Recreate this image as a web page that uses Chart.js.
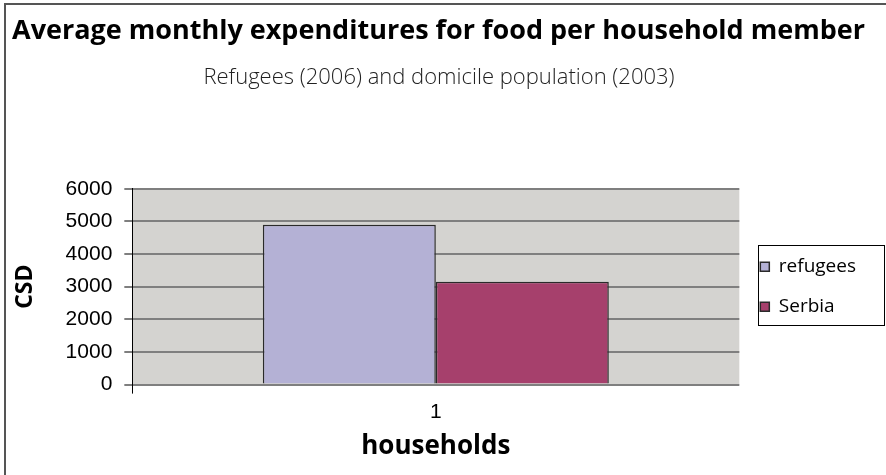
<!DOCTYPE html>
<html>
<head>
<meta charset="utf-8">
<script src="https://cdn.jsdelivr.net/npm/chart.js@4/dist/chart.umd.min.js"></script>
<style>
html,body{margin:0;padding:0;background:#fff;}
#wrap{width:886px;height:475px;position:relative;}
</style>
</head>
<body>
<div id="wrap"><canvas id="c" width="886" height="475"></canvas></div>
<script>
const titleText = "Average monthly expenditures for food per household member";
const subtitleText = "Refugees (2006) and domicile population (2003)";
const categories = ["1"];
const seriesNames = ["refugees", "Serbia"];
const refugeesValues = [4900];
const serbiaValues = [3150];
const yTicks = [0, 1000, 2000, 3000, 4000, 5000, 6000];
const xAxisTitle = "households";
const yAxisTitle = "CSD";

const framePlugin = {
  id: 'frame',
  beforeDraw(chart) {
    const ctx = chart.ctx;
    ctx.save();
    ctx.fillStyle = '#ffffff';
    ctx.fillRect(0, 0, chart.width, chart.height);
    ctx.strokeStyle = '#555555';
    ctx.lineWidth = 2;
    ctx.beginPath();
    ctx.moveTo(5, chart.height);
    ctx.lineTo(5, 4);
    ctx.lineTo(chart.width, 4);
    ctx.stroke();
    const a = chart.chartArea;
    ctx.fillStyle = '#d4d3d0';
    ctx.fillRect(a.left, a.top, a.right - a.left, a.bottom - a.top);
    ctx.restore();
  },
  afterDraw(chart) {
    const lg = chart.legend;
    if (!lg || !lg.legendHitBoxes || !lg.legendHitBoxes.length) return;
    const boxes = lg.legendHitBoxes;
    const first = boxes[0], last = boxes[boxes.length - 1];
    const l = Math.round(first.left - 2);
    const t = Math.round(first.top + first.height / 2 - 22);
    const b = Math.round(last.top + last.height / 2 + 18);
    const r = chart.width - 2;
    const ctx = chart.ctx;
    ctx.save();
    ctx.strokeStyle = '#000';
    ctx.lineWidth = 1;
    ctx.strokeRect(l + 0.5, t + 0.5, r - l, b - t);
    ctx.restore();
  }
};

new Chart(document.getElementById('c'), {
  type: 'bar',
  data: {
    labels: categories,
    datasets: [
      { label: seriesNames[0], data: refugeesValues, backgroundColor: '#b4b1d5', borderColor: '#2a2a2a', borderWidth: 1.5 },
      { label: seriesNames[1], data: serbiaValues, backgroundColor: '#a6406c', borderColor: '#2a2a2a', borderWidth: 1.5 }
    ]
  },
  plugins: [framePlugin],
  options: {
    responsive: false,
    animation: false,
    devicePixelRatio: 1,
    layout: { padding: { left: 12, right: 20, top: 0, bottom: 13 } },
    datasets: { bar: { barPercentage: 1.0, categoryPercentage: 0.57 } },
    plugins: {
      title: {
        display: true, text: titleText, align: 'start', color: '#000',
        font: { family: 'Open Sans', weight: 'bold', size: 27 },
        padding: { top: 15, bottom: 0 }
      },
      subtitle: {
        display: true, text: subtitleText, align: 'center', color: '#222',
        font: { family: 'Open Sans', weight: '300', size: 22 },
        padding: { top: 17, bottom: 98 }
      },
      legend: {
        display: true, position: 'right', align: 'center', fullSize: false,
        labels: {
          boxWidth: 9, boxHeight: 9, padding: 21, color: '#000',
          font: { family: 'Open Sans', size: 19 }
        }
      },
      tooltip: { enabled: false }
    },
    scales: {
      x: {
        grid: {
          display: true, drawOnChartArea: false, offset: true, tickLength: 9,
          color: (c) => c.index === 0 ? '#000' : 'rgba(0,0,0,0)'
        },
        border: { display: false },
        ticks: { color: '#000', font: { family: 'Liberation Sans', size: 21 }, padding: 6 },
        title: { display: true, text: xAxisTitle, color: '#000', font: { family: 'Open Sans', weight: 'bold', size: 26 }, padding: { top: 0, bottom: 0 } }
      },
      y: {
        min: 0, max: 6000,
        afterBuildTicks: (s) => { s.ticks = yTicks.map(v => ({ value: v })); },
        grid: { color: '#7f7f7f', lineWidth: 2, tickLength: 8 },
        border: { display: true, color: '#000', width: 1 },
        ticks: { color: '#000', font: { family: 'Liberation Sans', size: 21 }, padding: 12, callback: (v) => String(v) },
        title: { display: true, text: yAxisTitle, color: '#000', font: { family: 'Open Sans', weight: 'bold', size: 23 }, padding: { top: 0, bottom: 14 } }
      }
    }
  }
});
</script>
</body>
</html>
